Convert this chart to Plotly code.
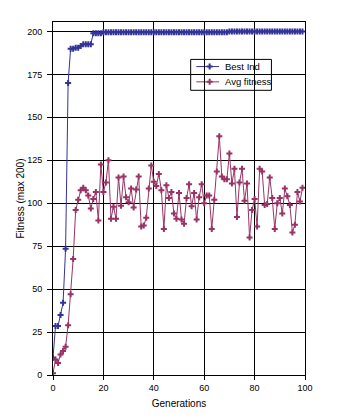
import plotly.graph_objects as go

generations = list(range(100))

best_ind = [10, 28.5, 28.5, 35, 42, 73.5, 170, 190, 190, 190.5,
            190.5, 191.5, 192.5, 192.5, 192.5, 192.5, 199, 199, 199, 199,
            199.5, 199.5, 199.5, 199.5, 199.5, 199.5, 199.5, 199.5, 199.5, 199.5,
            199.5, 199.5, 199.5, 199.5, 199.5, 199.5, 199.5, 199.5, 199.5, 199.5,
            199.5, 199.5, 199.5, 199.5, 199.5, 199.5, 199.5, 199.5, 199.5, 199.5,
            199.5, 199.5, 199.5, 199.5, 199.5, 199.5, 199.5, 199.5, 199.5, 199.5,
            199.5, 199.5, 199.5, 199.5, 199.5, 199.5, 199.5, 199.5, 199.5, 199.5,
            200, 200, 200, 200, 200, 200, 200, 200, 200, 200,
            200, 200, 200, 200, 200, 200, 200, 200, 200, 200,
            200, 200, 200, 200, 200, 200, 200, 200, 200, 200]

avg_fitness = [1, 9, 7, 12, 14, 16.5, 29, 47, 67.5, 96,
               102, 107.5, 109, 107.5, 104.5, 97, 102.5, 106.5, 90, 122.5,
               106.5, 112, 125, 91, 98, 91, 115, 98.5, 115.5, 103.5,
               100.5, 108.5, 97.5, 108, 115.5, 86.5, 87, 91.5, 108.5, 122,
               112.5, 110, 117, 107.5, 85, 110.5, 103, 106.5, 94, 91,
               106, 90.5, 88, 103, 111, 98.3, 106, 90.5, 103.5, 111,
               100, 104.5, 104.5, 85, 102, 118.5, 139, 115.5, 114, 114,
               129, 111.5, 120, 92, 112, 120, 101.5, 111.5, 80, 96,
               102.5, 86.5, 120, 118.5, 99, 99.5, 115, 103, 85, 100,
               103, 94, 108.5, 104, 99, 83, 87.5, 106.5, 101, 109]

series_names = ["Best Ind", "Avg fitness"]
series_colors = ["#333399", "#993366"]

font_family = "Liberation Sans, Arial, sans-serif"

# page has an 8px body margin; plot area spans page px x 46..305, y 22..376
BODY = 8
W, H = 355 - BODY, 420 - BODY
ML, MR, MT, MB = 38, 50, 14, 44
PL, PR, PT, PB = BODY + ML, BODY + W - MR, BODY + MT, BODY + H - MB


def px_x(x):
    return (x - PL) / (PR - PL)


def px_y(y):
    return (PB - y) / (PB - PT)


fig = go.Figure()
for name, vals, col in zip(series_names, [best_ind, avg_fitness], series_colors):
    fig.add_trace(go.Scatter(
        x=generations, y=vals, name=name, mode="lines+markers",
        line=dict(color=col, width=1),
        marker=dict(symbol="cross", size=5, color=col, line=dict(width=0)),
        showlegend=False,
    ))

# custom legend (box, sample lines, markers, labels) in paper space
box = dict(x0=187.5, x1=270.5, y0=59.5, y1=90.5)
item_y = [66.7, 82.0]
line_x = (193.3, 216.7)
marker_x = 207.0
text_x = 220.5

shapes = [dict(type="rect", xref="paper", yref="paper",
               x0=px_x(box["x0"]), x1=px_x(box["x1"]),
               y0=px_y(box["y1"]), y1=px_y(box["y0"]),
               line=dict(color="black", width=1), fillcolor="white", layer="between")]
annotations = []
for name, col, yy in zip(series_names, series_colors, item_y):
    shapes.append(dict(type="line", xref="paper", yref="paper",
                       x0=px_x(line_x[0]), x1=px_x(line_x[1]),
                       y0=px_y(yy), y1=px_y(yy),
                       line=dict(color=col, width=1), layer="between"))
    annotations.append(dict(xref="paper", yref="paper", x=px_x(text_x), y=px_y(yy),
                            xanchor="left", yanchor="middle", showarrow=False,
                            text=name, font=dict(size=9.5, color="black", family=font_family)))

# legend markers on an overlay axis spanning the paper
fig.add_trace(go.Scatter(
    x=[px_x(marker_x)] * 2, y=[px_y(v) for v in item_y],
    mode="markers", xaxis="x2", yaxis="y2", showlegend=False, hoverinfo="skip",
    marker=dict(symbol="cross", size=5, color=series_colors, line=dict(width=0)),
))

axis_common = dict(
    showgrid=True, gridcolor="black", gridwidth=1,
    showline=True, linecolor="black", linewidth=1, mirror=True,
    ticks="outside", tickcolor="black", tickwidth=1,
    zeroline=False, tickfont=dict(size=9, color="black", family=font_family),
)

fig.update_layout(
    width=W, height=H,
    margin=dict(l=ML, r=MR, t=MT, b=MB),
    paper_bgcolor="white", plot_bgcolor="white",
    font=dict(family=font_family, color="black", size=10),
    xaxis=dict(range=[0, 100], dtick=20, tick0=0, ticklen=4,
               title=dict(text="Generations", font=dict(size=10), standoff=8),
               **axis_common),
    yaxis=dict(range=[0, 205.5], dtick=25, tick0=0, ticklen=5, ticklabelstandoff=3,
               title=dict(text="Fitness (max 200)", font=dict(size=10), standoff=0),
               **axis_common),
    xaxis2=dict(range=[0, 1], overlaying="x", visible=False, fixedrange=True),
    yaxis2=dict(range=[0, 1], overlaying="y", visible=False, fixedrange=True),
    shapes=shapes,
    annotations=annotations,
    showlegend=False,
)

fig.write_html("out.html")
